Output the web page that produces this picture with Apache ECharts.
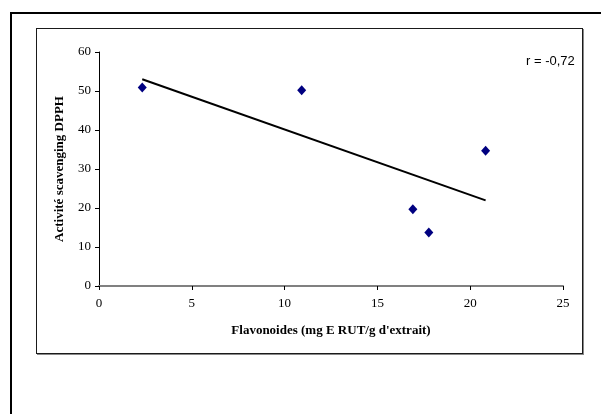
<!DOCTYPE html>
<html>
<head>
<meta charset="utf-8">
<script src="https://cdn.jsdelivr.net/npm/echarts@6/dist/echarts.min.js"></script>
<style>
  html, body { margin: 0; padding: 0; background: #fff; }
  #frame { position: absolute; left: 10px; top: 12px; width: 600px; height: 410px;
           border-left: 2px solid #000; border-top: 2px solid #000; }
  #box { position: absolute; left: 36px; top: 28px; width: 545px; height: 324px;
         border: 1px solid #1a1a1a; box-shadow: 1px 1px 0 #888; }
  #chart { position: absolute; left: 0; top: 0; width: 601px; height: 414px; }
</style>
</head>
<body>
<div id="frame"></div>
<div id="box"></div>
<div id="chart"></div>
<script>
// Flavonoid content vs. DPPH scavenging activity
const flavonoides = [2.33, 10.92, 16.91, 17.77, 20.83];
const activite = [50.9, 50.2, 19.7, 13.7, 34.7];
const xTicks = [0, 5, 10, 15, 20, 25];
const yTicks = [0, 10, 20, 30, 40, 50, 60];
const xTitle = "Flavonoides (mg E RUT/g d'extrait)";
const yTitle = 'Activité scavenging DPPH';

// least-squares fit and correlation coefficient
const n = flavonoides.length;
const mx = flavonoides.reduce((a, b) => a + b, 0) / n;
const my = activite.reduce((a, b) => a + b, 0) / n;
let sxy = 0, sxx = 0, syy = 0;
for (let i = 0; i < n; i++) {
  const dx = flavonoides[i] - mx, dy = activite[i] - my;
  sxy += dx * dy; sxx += dx * dx; syy += dy * dy;
}
const slope = sxy / sxx;
const intercept = my - slope * mx;
const r = sxy / Math.sqrt(sxx * syy);
const xMin = Math.min(...flavonoides), xMax = Math.max(...flavonoides);
const trend = [[xMin, intercept + slope * xMin], [xMax, intercept + slope * xMax]];

const points = flavonoides.map((x, i) => [x, activite[i]]);
const serif = '"Liberation Serif", "Times New Roman", serif';

const chart = echarts.init(document.getElementById('chart'), null, { renderer: 'canvas' });
chart.setOption({
  animation: false,
  grid: { left: 99, right: 38, top: 52, bottom: 128, containLabel: false },
  xAxis: {
    type: 'value', min: xTicks[0], max: xTicks[xTicks.length - 1], interval: 5,
    name: xTitle, nameLocation: 'middle', nameGap: 38,
    nameTextStyle: { fontFamily: serif, fontWeight: 'bold', fontSize: 13, color: '#000' },
    axisLine: { onZero: false, lineStyle: { color: '#808080', width: 2 } },
    axisTick: { show: true, length: 4, inside: false, lineStyle: { color: '#000', width: 1 } },
    axisLabel: { fontFamily: serif, fontSize: 13, color: '#000', margin: 11 },
    splitLine: { show: false }
  },
  yAxis: {
    type: 'value', min: yTicks[0], max: yTicks[yTicks.length - 1], interval: 10,
    name: yTitle, nameLocation: 'middle', nameGap: 33, nameRotate: 90,
    nameTextStyle: { fontFamily: serif, fontWeight: 'bold', fontSize: 13, color: '#000' },
    axisLine: { show: true, onZero: false, lineStyle: { color: '#000', width: 1 } },
    axisTick: { show: true, length: 4, lineStyle: { color: '#000', width: 1 } },
    axisLabel: { fontFamily: serif, fontSize: 13, color: '#000', margin: 8 },
    splitLine: { show: false }
  },
  series: [
    {
      type: 'line', data: trend, symbol: 'none',
      lineStyle: { color: '#000', width: 2 }, z: 2
    },
    {
      type: 'scatter', data: points, symbol: 'diamond', symbolSize: [9, 10],
      itemStyle: { color: '#000080', opacity: 1 }, z: 3
    }
  ],
  graphic: [{
    type: 'text', left: 526, top: 55,
    style: {
      text: 'r = ' + r.toFixed(2).replace('.', ','),
      font: '13px "Liberation Sans", Arial, sans-serif', fill: '#000'
    }
  }]
});
</script>
</body>
</html>
